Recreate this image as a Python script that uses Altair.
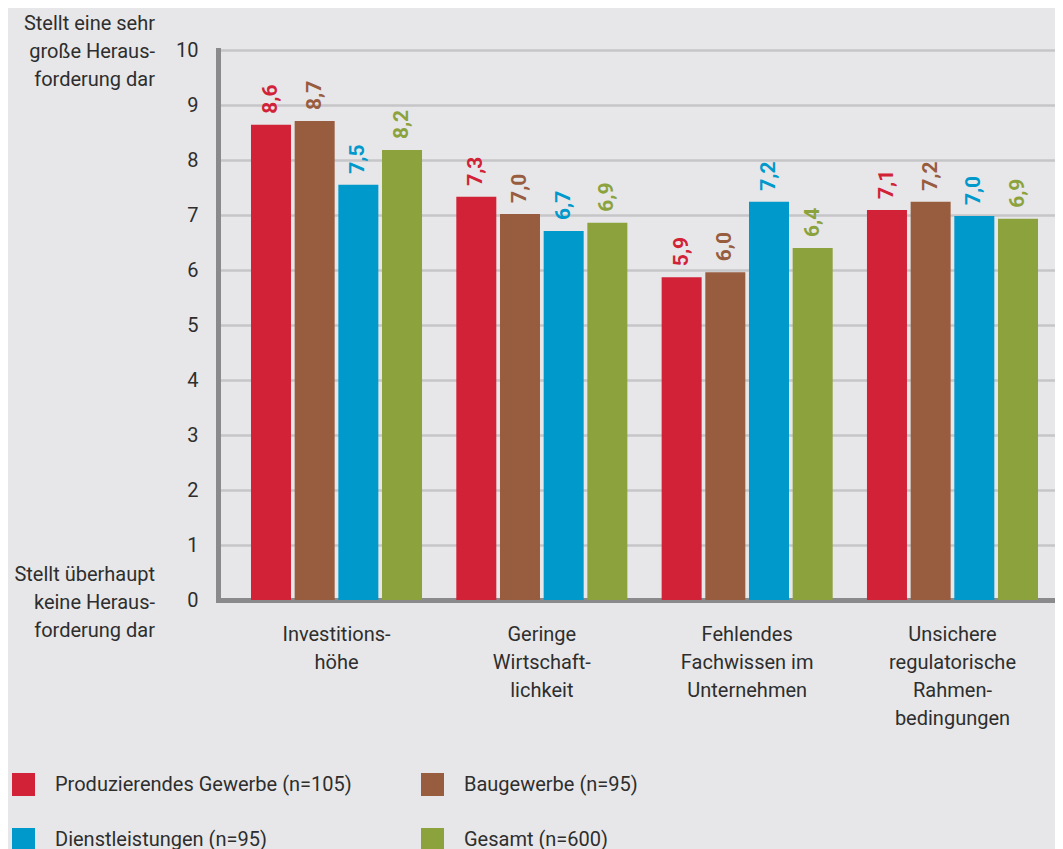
import altair as alt
import pandas as pd

categories = [
    "Investitions-|höhe",
    "Geringe|Wirtschaft-|lichkeit",
    "Fehlendes|Fachwissen im|Unternehmen",
    "Unsichere|regulatorische|Rahmen-|bedingungen",
]
series = [
    "Produzierendes Gewerbe (n=105)",
    "Baugewerbe (n=95)",
    "Dienstleistungen (n=95)",
    "Gesamt (n=600)",
]
colors = ["#d22237", "#985c3f", "#0099cc", "#8ba23d"]

prod_values = [8.64, 7.33, 5.87, 7.09]
bau_values = [8.71, 7.02, 5.96, 7.24]
dienst_values = [7.55, 6.71, 7.24, 6.98]
gesamt_values = [8.18, 6.86, 6.40, 6.93]

prod_labels = ["8,6", "7,3", "5,9", "7,1"]
bau_labels = ["8,7", "7,0", "6,0", "7,2"]
dienst_labels = ["7,5", "6,7", "7,2", "7,0"]
gesamt_labels = ["8,2", "6,9", "6,4", "6,9"]

y_ticks = [0, 1, 2, 3, 4, 5, 6, 7, 8, 9, 10]
top_title = "Stellt eine sehr|große Heraus-|forderung dar"
bottom_title = "Stellt überhaupt|keine Heraus-|forderung dar"

rows = []
for s, vals, labs in [
    (series[0], prod_values, prod_labels),
    (series[1], bau_values, bau_labels),
    (series[2], dienst_values, dienst_labels),
    (series[3], gesamt_values, gesamt_labels),
]:
    for c, v, l in zip(categories, vals, labs):
        rows.append({"category": c, "series": s, "value": v, "label": l})
df = pd.DataFrame(rows)

FONT = "Roboto"
TEXT = "#2e2e2e"

x_enc = alt.X(
    "category:N",
    sort=categories,
    scale=alt.Scale(paddingInner=0.167, paddingOuter=0.1217, align=0.66),
    axis=alt.Axis(
        title=None,
        labelExpr="split(datum.label, '|')",
        labelAngle=0,
        labelFontSize=20,
        labelLineHeight=28,
        labelPadding=24,
        labelColor=TEXT,
        labelFont=FONT,
        ticks=False,
        domainColor="#8a8a8c",
        domainWidth=5,
        grid=False,
        labelLimit=300,
    ),
)
xoff_enc = alt.XOffset(
    "series:N", sort=series, scale=alt.Scale(paddingInner=0.084, paddingOuter=0)
)
y_enc = alt.Y(
    "value:Q",
    scale=alt.Scale(domain=[0, 10], nice=False, zero=True),
    axis=alt.Axis(
        title=None,
        values=y_ticks,
        labelFontSize=20,
        labelColor=TEXT,
        labelFont=FONT,
        labelPadding=20,
        ticks=False,
        domainColor="#8a8a8c",
        domainWidth=5,
        gridColor="#c6c6c8",
        gridWidth=2.5,
    ),
)

color_scale = alt.Scale(domain=series, range=colors)

bars = alt.Chart(df).mark_bar().encode(
    x=x_enc,
    xOffset=xoff_enc,
    y=y_enc,
    color=alt.Color(
        "series:N",
        scale=color_scale,
        sort=series,
        legend=alt.Legend(
            title=None,
            orient="none",
            direction="horizontal",
            legendX=-206,
            legendY=723,
            columns=2,
            symbolType="square",
            symbolSize=529,
            symbolStrokeWidth=0,
            symbolOpacity=1,
            labelFontSize=20,
            labelFont=FONT,
            labelColor=TEXT,
            labelOffset=20,
            labelLimit=400,
            columnPadding=69,
            rowPadding=32,
        ),
    ),
)

labels = alt.Chart(df).mark_text(
    angle=270,
    align="left",
    baseline="middle",
    dx=11,
    font=FONT,
    fontSize=21,
    fontWeight="bold",
).encode(
    x=alt.X("category:N", sort=categories),
    xOffset=alt.XOffset("series:N", sort=series),
    y=alt.Y("value:Q"),
    text="label:N",
    color=alt.Color("series:N", scale=color_scale, sort=series, legend=None),
)

top_txt = alt.Chart(pd.DataFrame({"t": [top_title]})).mark_text(
    align="right",
    baseline="alphabetic",
    lineBreak="|",
    lineHeight=28,
    font=FONT,
    fontSize=20,
    color=TEXT,
).encode(text="t:N", x=alt.value(-63), y=alt.value(-20))

bottom_txt = alt.Chart(pd.DataFrame({"t": [bottom_title]})).mark_text(
    align="right",
    baseline="alphabetic",
    lineBreak="|",
    lineHeight=28,
    font=FONT,
    fontSize=20,
    color=TEXT,
).encode(text="t:N", x=alt.value(-63), y=alt.value(531))

chart = (
    alt.layer(bars, labels, top_txt, bottom_txt)
    .properties(
        width=837,
        height=550,
        autosize=alt.AutoSizeParams(type="none"),
        padding={"left": 210, "top": 42, "right": 0, "bottom": 249},
        background="#e7e7e9",
    )
    .configure_view(stroke=None)
    .configure_axis(domainCap="square")
)

chart.save("out.html", embed_options={"renderer": "svg", "actions": False})
